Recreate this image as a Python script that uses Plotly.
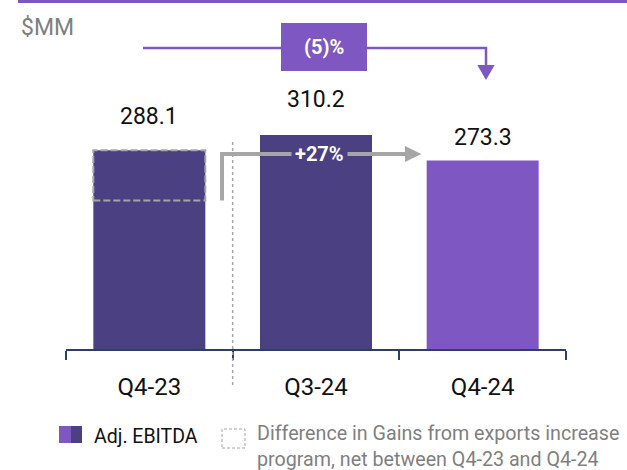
import plotly.graph_objects as go

# ---- data -------------------------------------------------------------
categories = ["Q4-23", "Q3-24", "Q4-24"]
adj_ebitda = [288.1, 310.2, 273.3]
bar_colors = ["#4A4082", "#4A4082", "#7E57C2"]
gains_diff_q4_23 = 72.9          # difference in gains from exports increase program

# derived changes
yoy_change = adj_ebitda[2] / adj_ebitda[0] - 1
adj_base_q4_23 = adj_ebitda[0] - gains_diff_q4_23
adj_change = adj_ebitda[2] / adj_base_q4_23 - 1
yoy_label = f"({abs(round(yoy_change * 100)):.0f})%" if yoy_change < 0 else f"+{round(yoy_change * 100):.0f}%"
adj_label = f"+{round(adj_change * 100):.0f}%"

# ---- geometry helpers (figure pixels -> paper coords) ------------------
W, H = 627, 470
ML, MR, MT, MB = 66, 61, 0, 121
PW, PH = W - ML - MR, H - MT - MB
Y_MAX = 506


def px_x(px):
    return (px - ML) / PW


def px_y(py):
    return (H - MB - py) / PH


def px_v(py):
    """pixel row -> value on the y axis"""
    return (H - MB - py) / PH * Y_MAX


PURPLE = "#7E57C2"
DARK = "#4A4082"
GREY = "#A6A6A6"
FONT = "Roboto"

fig = go.Figure()
fig.add_trace(go.Bar(
    x=categories, y=adj_ebitda, marker=dict(color=bar_colors, line=dict(width=0)),
    width=0.672, showlegend=False, hoverinfo="skip",
))

# value labels above the bars
label_lift = [18, 20, 8]
for i, (c, v) in enumerate(zip(categories, adj_ebitda)):
    fig.add_annotation(x=i, y=v, text=f"{v:.1f}", showarrow=False, yanchor="bottom",
                       yshift=label_lift[i], font=dict(family=FONT, size=23, color="#111111"))

shapes = []
# top rule
shapes.append(dict(type="line", xref="paper", yref="paper", x0=px_x(18), x1=px_x(627),
                   y0=px_y(1.5), y1=px_y(1.5), line=dict(color=PURPLE, width=3)))

# dashed overlay on Q4-23 for the gains difference
shapes.append(dict(type="rect", xref="x", yref="y", x0=-0.336, x1=0.336,
                   y0=adj_base_q4_23, y1=adj_ebitda[0],
                   line=dict(color=GREY, width=2, dash="7px,3px"), fillcolor="rgba(0,0,0,0)"))

# dotted separator between Q4-23 and Q3-24
shapes.append(dict(type="line", xref="x", yref="paper", x0=0.5, x1=0.5,
                   y0=px_y(142), y1=px_y(388), line=dict(color=GREY, width=1.5, dash="dot")))

# +27% connector (grey): up from the adjusted base, across to Q4-24
conn_y = px_v(154)
conn_x0 = 0.436
conn_x1 = 1.534
shapes.append(dict(type="path", xref="x", yref="y",
                   path=f"M {conn_x0},{adj_base_q4_23} L {conn_x0},{conn_y} L {conn_x1},{conn_y}",
                   line=dict(color=GREY, width=4)))
shapes.append(dict(type="path", xref="x", yref="y",
                   path=f"M {conn_x1},{px_v(146)} L 1.632,{conn_y} L {conn_x1},{px_v(162)} Z",
                   line=dict(color=GREY, width=0), fillcolor=GREY))

# (5)% connector (purple): from Q4-23 across and down onto Q4-24
top_y = px_v(48)
shapes.append(dict(type="path", xref="x", yref="y",
                   path=f"M -0.038,{top_y} L 2.02,{top_y} L 2.02,{px_v(66)}",
                   line=dict(color=PURPLE, width=2.5)))
shapes.append(dict(type="path", xref="x", yref="y",
                   path=f"M 1.968,{px_v(65)} L 2.072,{px_v(65)} L 2.02,{px_v(80)} Z",
                   line=dict(color=PURPLE, width=0), fillcolor=PURPLE))
shapes.append(dict(type="rect", xref="x", yref="y", x0=0.79, x1=1.306,
                   y0=px_v(71), y1=px_v(23), line=dict(width=0), fillcolor=PURPLE))

# legend marks
shapes.append(dict(type="rect", xref="paper", yref="paper", x0=px_x(59), x1=px_x(71),
                   y0=px_y(443), y1=px_y(426), line=dict(width=0), fillcolor=PURPLE))
shapes.append(dict(type="rect", xref="paper", yref="paper", x0=px_x(71), x1=px_x(82),
                   y0=px_y(443), y1=px_y(426), line=dict(width=0), fillcolor=DARK))
shapes.append(dict(type="rect", xref="paper", yref="paper", x0=px_x(222), x1=px_x(245),
                   y0=px_y(448), y1=px_y(429), line=dict(color=GREY, width=1, dash="3px,2px"),
                   fillcolor="rgba(0,0,0,0)"))

fig.update_layout(shapes=shapes)

fig.add_annotation(x=1.048, y=px_v(47), xref="x", yref="y", text=f"<b>{yoy_label}</b>",
                   showarrow=False, font=dict(family=FONT, size=20, color="white"))
fig.add_annotation(x=1.018, y=conn_y, xref="x", yref="y", text=f"<b>{adj_label}</b>",
                   showarrow=False, bgcolor=DARK, borderpad=3,
                   font=dict(family=FONT, size=20, color="white"))

fig.add_annotation(xref="paper", yref="paper", x=px_x(19), y=px_y(28), text="$MM",
                   showarrow=False, xanchor="left", yanchor="middle",
                   font=dict(family=FONT, size=23, color="#7F7F7F"))

fig.add_annotation(xref="paper", yref="paper", x=px_x(92), y=px_y(436), text="Adj. EBITDA",
                   showarrow=False, xanchor="left", yanchor="middle",
                   font=dict(family=FONT, size=19.5, color="#111111"))
fig.add_annotation(xref="paper", yref="paper", x=px_x(255), y=px_y(447),
                   text="Difference in Gains from exports increase<br>program, net between Q4-23 and Q4-24",
                   showarrow=False, xanchor="left", yanchor="middle", align="left",
                   font=dict(family=FONT, size=19.7, color="#7F7F7F"))

fig.update_layout(
    width=W, height=H,
    margin=dict(l=ML, r=MR, t=MT, b=MB),
    paper_bgcolor="white", plot_bgcolor="white",
    bargap=0.33,
    xaxis=dict(type="category", range=[-0.5, 2.5], showline=True, linecolor="#2E3D6E",
               linewidth=1.5, ticks="outside", tickson="boundaries", ticklen=9,
               tickcolor="#2E3D6E", tickwidth=1.5, showgrid=False, zeroline=False,
               ticklabelstandoff=15, tickfont=dict(family=FONT, size=24, color="#111111")),
    yaxis=dict(range=[0, Y_MAX], visible=False, showgrid=False, zeroline=False),
)

fig.write_html("out.html")
